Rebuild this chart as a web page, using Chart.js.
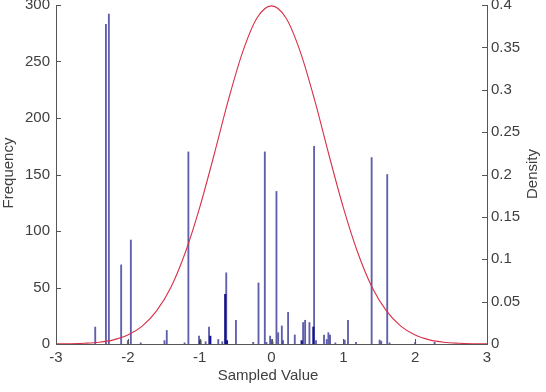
<!DOCTYPE html>
<html><head><meta charset="utf-8">
<script src="https://cdn.jsdelivr.net/npm/chart.js@4/dist/chart.umd.min.js"></script>
<style>
html,body{margin:0;padding:0;background:#fff;overflow:hidden;width:546px;height:392px;}
#wrap{position:absolute;left:0;top:-10px;width:546px;height:402px;}
</style></head><body>
<div id="wrap"><canvas id="c" width="546" height="402"></canvas></div>
<script>
// ---- data ----
const xTicks = [-3, -2, -1, 0, 1, 2, 3];
const freqTicks = [0, 50, 100, 150, 200, 250, 300];
const densityTicks = [0, 0.05, 0.1, 0.15, 0.2, 0.25, 0.3, 0.35, 0.4];

const barX = [-2.454, -2.305, -2.264, -2.093, -2.00, -1.958, -1.82, -1.49, -1.458, -1.21, -1.157,
  -1.009, -0.917, -0.870, -0.741, -0.685, -0.630, -0.495, -0.255, -0.181, -0.093, -0.07, -0.019,
  0.0, 0.015, 0.069, 0.093, 0.144, 0.16, 0.231, 0.324, 0.440, 0.468, 0.528, 0.593, 0.62, 0.731,
  0.769, 0.792, 0.815, 0.889, 1.019, 1.065, 1.176, 1.394, 1.505, 1.528, 1.611, 1.644, 2.0, 2.27];
const barFreq = [15, 283, 292, 70, 3, 92, 1, 3, 12, 1, 170,
  7, 2, 15, 4, 2, 63, 21, 1.5, 54, 170, 1.5, 7,
  4, 2, 135, 10, 16, 3, 28, 8, 19, 21, 19, 175, 3, 8,
  4, 10, 8, 1, 3.5, 21, 1.5, 165, 3.5, 2.5, 150, 1, 1.5, 1.5];

const denseX = [-0.99, -0.852, -0.644, -0.62, 0.42, 0.583];
const denseFreq = [3, 7, 44, 3, 3, 15];

const curveX = [-3, -2.8, -2.6, -2.4, -2.2, -2, -1.8, -1.6, -1.4, -1.2, -1, -0.8, -0.6, -0.4, -0.2, 0,
  0.2, 0.4, 0.6, 0.8, 1, 1.2, 1.4, 1.6, 1.8, 2, 2.2, 2.4, 2.6, 2.8, 3];
const curveDensity = [0.0001, 0.0003, 0.0009, 0.0021, 0.0049, 0.0105, 0.021, 0.039, 0.067, 0.108,
  0.161, 0.223, 0.288, 0.345, 0.385, 0.399, 0.385, 0.345, 0.288, 0.223, 0.161, 0.108, 0.067, 0.039,
  0.021, 0.0105, 0.0049, 0.0021, 0.0009, 0.0003, 0.0001];

const FONT = '"Liberation Sans", Arial, sans-serif';
const TXT = '#404040';
const AX = '#555555';

const pts = (xs, ys) => xs.map((x, i) => ({x: x, y: ys[i]}));

const decor = {
  id: 'decor',
  afterDraw(chart) {
    const ctx = chart.ctx, a = chart.chartArea;
    const sx = chart.scales.x, sy = chart.scales.y, sy2 = chart.scales.y2;
    ctx.save();
    ctx.strokeStyle = AX; ctx.lineWidth = 1;
    ctx.beginPath();
    xTicks.forEach(v => { const p = Math.round(sx.getPixelForValue(v)) + 0.5; ctx.moveTo(p, a.bottom); ctx.lineTo(p, a.bottom - 5); });
    freqTicks.forEach(v => { const p = Math.round(sy.getPixelForValue(v)) + 0.5; ctx.moveTo(a.left, p); ctx.lineTo(a.left + 5, p); });
    densityTicks.forEach(v => { const p = Math.round(sy2.getPixelForValue(v)) + 0.5; ctx.moveTo(a.right, p); ctx.lineTo(a.right - 5, p); });
    ctx.stroke();
    ctx.fillStyle = TXT;
    ctx.font = '15px ' + FONT;
    ctx.textAlign = 'center'; ctx.textBaseline = 'middle';
    ctx.fillText('Sampled Value', 268, 386);
    ctx.save(); ctx.translate(9, 183); ctx.rotate(-Math.PI / 2); ctx.fillText('Frequency', 0, 0); ctx.restore();
    ctx.save(); ctx.translate(533, 184); ctx.rotate(-Math.PI / 2); ctx.fillText('Density', 0, 0); ctx.restore();
    ctx.restore();
  }
};

new Chart(document.getElementById('c'), {
  type: 'bar',
  data: {
    datasets: [
      { type: 'line', data: pts(curveX, curveDensity), yAxisID: 'y2', borderColor: '#d83048', borderWidth: 1.1,
        pointRadius: 0, fill: false, cubicInterpolationMode: 'monotone', order: 0 },
      { type: 'bar', data: pts(barX, barFreq), yAxisID: 'y', backgroundColor: 'rgba(55,55,150,0.8)',
        barThickness: 1.2, grouped: false, order: 2 },
      { type: 'bar', data: pts(denseX, denseFreq), yAxisID: 'y', backgroundColor: '#12128a',
        barThickness: 1.5, grouped: false, order: 1 }
    ]
  },
  options: {
    responsive: false, animation: false, devicePixelRatio: 1,
    layout: { padding: { top: 14, left: 0, right: 0, bottom: 0 } },
    plugins: { legend: { display: false }, tooltip: { enabled: false } },
    scales: {
      x: {
        type: 'linear', min: -3, max: 3, offset: false,
        grid: { display: false, drawTicks: false },
        border: { color: AX },
        ticks: { stepSize: 1, padding: 5, color: TXT, font: { family: FONT, size: 15 }, maxRotation: 0, autoSkip: false },
        afterFit(s) { s.height = 48; }
      },
      y: {
        position: 'left', min: 0, max: 300,
        grid: { display: false, drawTicks: false },
        border: { color: AX },
        ticks: { stepSize: 50, padding: 6, color: TXT, font: { family: FONT, size: 15 } },
        afterFit(s) { s.width = 56; }
      },
      y2: {
        position: 'right', min: 0, max: 0.4,
        grid: { display: false, drawTicks: false },
        border: { color: AX },
        ticks: { stepSize: 0.05, padding: 4, color: TXT, font: { family: FONT, size: 15 },
          callback: v => String(+v.toFixed(2)) },
        afterFit(s) { s.width = 59; }
      }
    }
  },
  plugins: [decor]
});
</script>
</body></html>
